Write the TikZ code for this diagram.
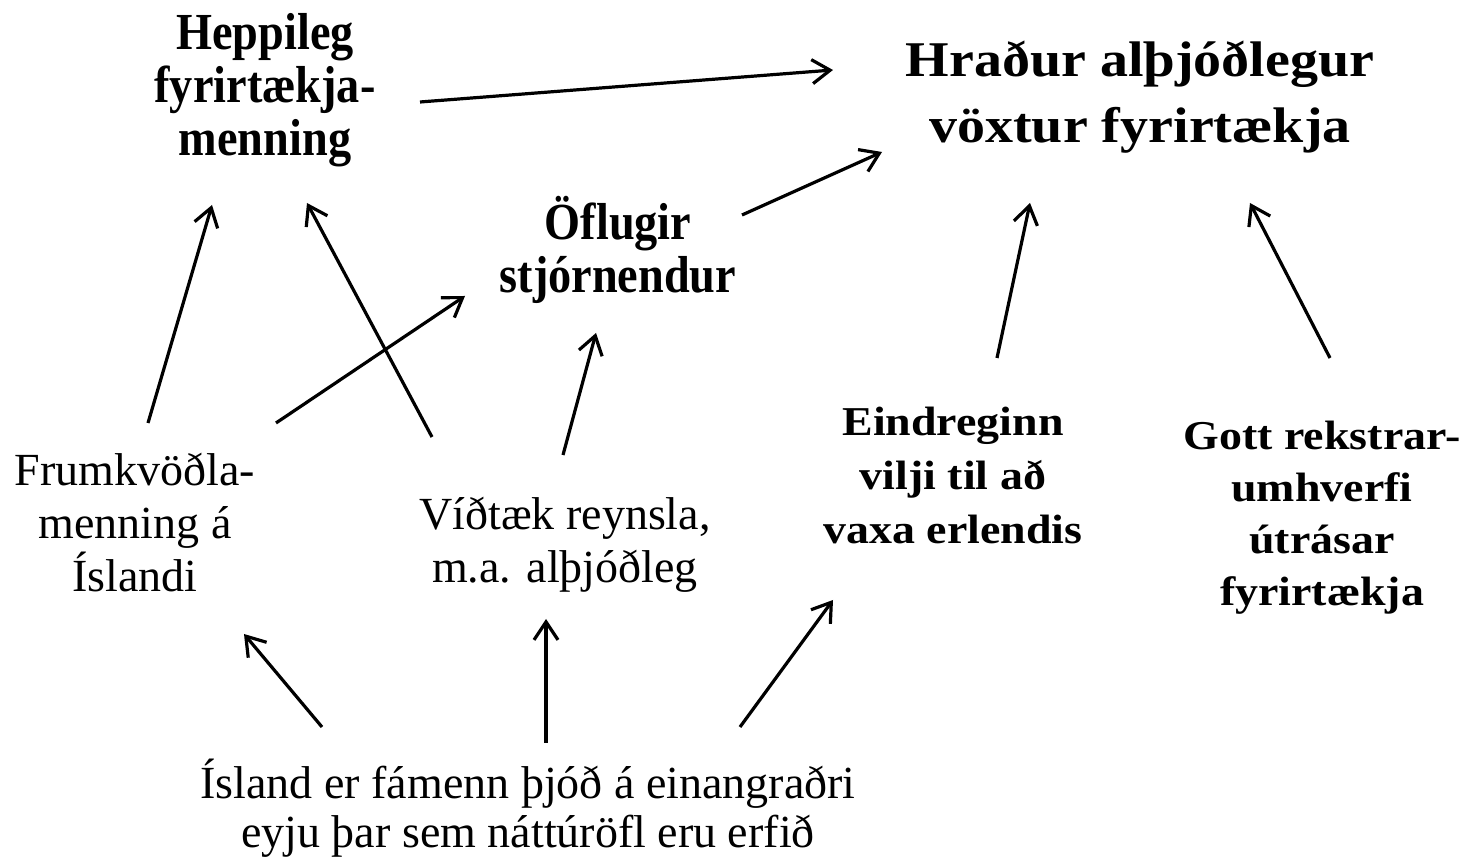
\documentclass[tikz,border=0pt]{standalone}
\usepackage{fontspec}
\setmainfont{Liberation Serif}
\newfontfamily\narrowfont{Liberation Serif}[FakeStretch=0.89]
\newfontfamily\widefont{Liberation Serif}[FakeStretch=1.12]
\usetikzlibrary{arrows.meta,calc}

\tikzset{
	lite/.style={align=center, inner sep=0pt, font=\fontsize{23}{26.5}\selectfont},
	heavy/.style={align=center, inner sep=0pt, font=\narrowfont\bfseries\fontsize{26}{26.5}\selectfont},
	wide/.style={align=center, inner sep=0pt, font=\widefont\bfseries\fontsize{20.5}{27}\selectfont},
	title/.style={wide, font=\widefont\bfseries\fontsize{25}{33}\selectfont},
	arr/.style={line width=1.6pt, -{Straight Barb[length=9pt,width=12pt]}}
}

\begin{document}
\begin{tikzpicture}[x=0.5pt,y=-0.5pt]
	\useasboundingbox (0,0) rectangle (1468,860);
	\node[heavy] (hepp) at (265,90) {Heppileg\\fyrirtækja-\\menning};
	\node[title] (hrad) at (1140,97) {Hraður alþjóðlegur\\vöxtur fyrirtækja};
	\node[heavy] (ofl) at (618,250) {Öflugir\\stjórnendur};
	\node[lite] (frum) at (135,523) {Frumkvöðla-\\menning á\\Íslandi};
	\node[lite] (vid) at (565,545) {Víðtæk reynsla,\\m.a. alþjóðleg};
	\node[wide] (eind) at (953,475) {Eindreginn\\vilji til að\\vaxa erlendis};
	\node[wide, font=\widefont\bfseries\fontsize{20.5}{26}\selectfont] (gott) at (1322,518) {Gott rekstrar-\\umhverfi\\útrásar\\fyrirtækja};
	\node[lite, font=\fontsize{23}{24.5}\selectfont] (isl) at (528,808) {Ísland er fámenn þjóð á einangraðri\\eyju þar sem náttúröfl eru erfið};
	% upward links
	\draw[arr] ($(hepp)+(155,12)$) -- ($(hrad)+(-307,-27)$);
	\draw[arr] ($(ofl)+(124,-35)$) -- ($(hrad)+(-258,55)$);
	\draw[arr] ($(frum)+(13,-100)$) -- ($(hepp)+(-53,115)$);
	\draw[arr] ($(vid)+(-133,-108)$) -- ($(hepp)+(42,113)$);
	\draw[arr] ($(frum)+(141,-100)$) -- ($(ofl)+(-153,46)$);
	\draw[arr] ($(vid)+(-2,-90)$) -- ($(ofl)+(-22,83)$);
	\draw[arr] ($(eind)+(44,-117)$) -- ($(hrad)+(-110,106)$);
	\draw[arr] ($(gott)+(8,-160)$) -- ($(hrad)+(110,106)$);
	\draw[arr] ($(isl)+(-206,-81)$) -- ($(frum)+(109,111)$);
	\draw[arr] ($(isl)+(18,-65)$) -- ($(vid)+(-19,74)$);
	\draw[arr] ($(isl)+(212,-81)$) -- ($(eind)+(-120,125)$);
\end{tikzpicture}
\end{document}
